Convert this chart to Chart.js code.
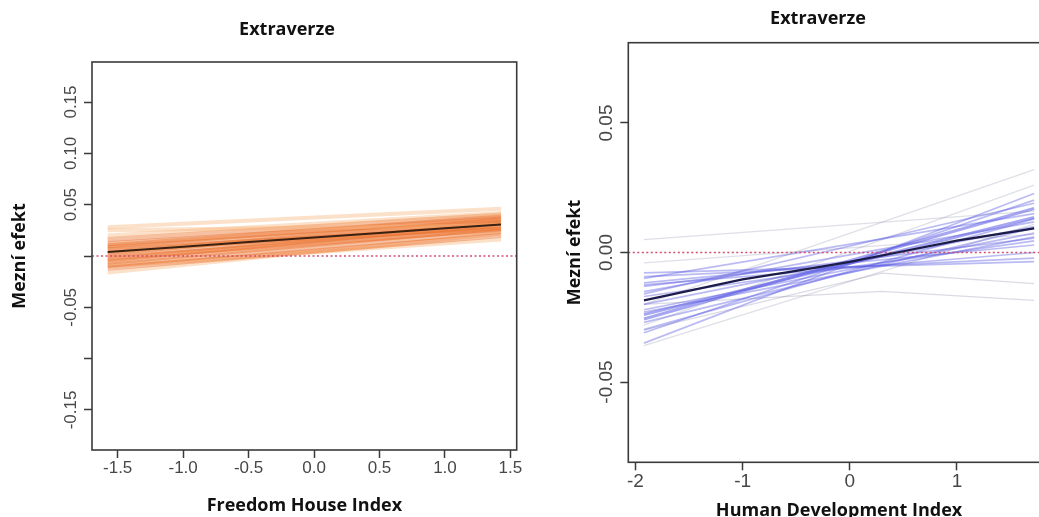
<!DOCTYPE html>
<html>
<head>
<meta charset="utf-8">
<script src="https://cdn.jsdelivr.net/npm/chart.js@4.4.0/dist/chart.umd.min.js"></script>
<style>
  html, body { margin: 0; padding: 0; background: #fff; overflow: hidden; width: 1039px; height: 517px; }
  #left { position: absolute; left: 0; top: 0; }
  #right { position: absolute; left: 530px; top: 0; }
</style>
</head>
<body>
<canvas id="left" width="530" height="517"></canvas>
<canvas id="right" width="540" height="540"></canvas>
<script>
// ---- left panel: Freedom House Index ----
var fhX = [-1.576, 1.428];                 // range of the simulated lines
var fhLinesLeft  = [0.025, 0.020, 0.016, 0.012, 0.010, 0.008, 0.006, 0.003, 0.001, -0.002, -0.004, -0.006, -0.009, -0.012, -0.010, -0.016, 0.028];
var fhLinesRight = [0.030, 0.042, 0.040, 0.036, 0.038, 0.033, 0.028, 0.035, 0.030, 0.026, 0.032, 0.027, 0.024, 0.020, 0.016, 0.022, 0.046];
var fhMeanX = [-1.576, -1.0, -0.5, 0, 0.5, 1.0, 1.428];
var fhMeanY = [0.004, 0.0091, 0.0136, 0.018, 0.0225, 0.027, 0.0308];
var fhXTicks = [-1.5, -1.0, -0.5, 0, 0.5, 1.0, 1.5];
var fhXLabels = ['-1.5', '-1.0', '-0.5', '0.0', '0.5', '1.0', '1.5'];
var fhYTicks = [-0.15, -0.10, -0.05, 0, 0.05, 0.10, 0.15];
var fhYLabels = ['-0.15', '', '-0.05', '', '0.05', '0.10', '0.15'];

// ---- right panel: Human Development Index ----
var hdiX = [-1.92, 1.72];
var hdiLinesLeft  = [-0.0350, -0.0310, -0.0298, -0.0270, -0.0257, -0.0240, -0.0221, -0.0200, -0.0170, -0.0151, -0.0131, -0.0117, -0.0100, -0.0093, -0.0079, -0.0160, -0.0230, -0.0125];
var hdiLinesRight = [ 0.0228,  0.0202,  0.0130,  0.0095,  0.0170,  0.0135,  0.0075,  0.0100,  0.0045,  0.0118,  0.0055,  0.0029,  0.0150, -0.0022, -0.0035,  0.0190,  0.0060,  0.0000];
var hdiFaintLeft  = [-0.0360, -0.0040, -0.0280, 0.0050, -0.0200];
var hdiFaintRight = [ 0.0110,  0.0070,  0.0260, 0.0160,  0.0320];
var hdiBentX = [-1.92, 0.3, 1.72];
var hdiBentY = [[-0.0200, -0.0150, -0.0185], [-0.0300, -0.0080, -0.0120]];
var hdiMeanX = [-1.92, -1, -0.5, 0, 0.5, 1, 1.72];
var hdiMeanY = [-0.0185, -0.0104, -0.0071, -0.0036, 0.0005, 0.0046, 0.0093];
var hdiXTicks = [-2, -1, 0, 1];
var hdiXLabels = ['-2', '-1', '0', '1'];
var hdiYTicks = [-0.05, 0, 0.05];
var hdiYLabels = ['-0.05', '0.00', '0.05'];

Chart.defaults.font.family = "'Liberation Sans', Arial, sans-serif";
Chart.defaults.animation = false;

var boxPlugin = {
  id: 'box',
  afterDatasetsDraw: function (chart) {
    var a = chart.chartArea, ctx = chart.ctx;
    ctx.save();
    ctx.strokeStyle = '#3a3a3a';
    ctx.lineWidth = 1.6;
    ctx.strokeRect(a.left, a.top, a.right - a.left, a.bottom - a.top);
    ctx.restore();
  }
};

var headPlugin = {
  id: 'head',
  afterDraw: function (chart, args, opts) {
    var ctx = chart.ctx;
    ctx.save();
    ctx.font = 'bold 18px "Open Sans"';
    ctx.fillStyle = '#111';
    ctx.textAlign = 'center';
    ctx.textBaseline = 'middle';
    ctx.fillText(opts.text, opts.x, opts.y);
    ctx.restore();
  }
};

function pts(xs, ys) {
  return xs.map(function (x, i) { return { x: x, y: ys[i] }; });
}

function lineSet(data, color, width, dash) {
  return {
    data: data, showLine: true, borderColor: color, borderWidth: width,
    borderDash: dash || [], pointRadius: 0, tension: 0, fill: false
  };
}

function makeChart(id, o) {
  var tickColor = '#3a3a3a';
  return new Chart(document.getElementById(id), {
    type: 'scatter',
    data: { datasets: o.datasets },
    options: {
      responsive: false,
      devicePixelRatio: 1,
      layout: { padding: o.padding },
      plugins: { legend: { display: false }, tooltip: { enabled: false }, head: o.head },
      scales: {
        x: {
          type: 'linear', bounds: 'data', min: o.xMin, max: o.xMax,
          afterBuildTicks: function (s) { s.ticks = o.xTicks.map(function (v) { return { value: v }; }); },
          afterFit: function (s) { s.height = o.xHeight; s.paddingLeft = 0; s.paddingRight = 0; },
          ticks: {
            autoSkip: false, maxRotation: 0, padding: 0, color: '#474747',
            font: { size: o.tickSize },
            callback: function (v, i) { return o.xLabels[i]; }
          },
          grid: { drawOnChartArea: false, drawTicks: true, tickLength: 8, tickColor: tickColor, tickWidth: 1.5 },
          border: { display: false },
          title: {
            display: true, text: o.xTitle, color: '#111',
            font: { family: 'Open Sans', weight: 'bold', size: 18 },
            padding: { top: 0, bottom: o.xTitlePad }
          }
        },
        y: {
          type: 'linear', bounds: 'data', min: o.yMin, max: o.yMax,
          afterBuildTicks: function (s) { s.ticks = o.yTicks.map(function (v) { return { value: v }; }); },
          afterFit: function (s) { s.width = o.yWidth; s.paddingTop = 0; s.paddingBottom = 0; },
          ticks: {
            autoSkip: false, minRotation: 90, maxRotation: 90, crossAlign: 'center',
            padding: o.yTickPad, color: '#474747', font: { size: o.tickSize },
            callback: function (v, i) { return o.yLabels[i]; }
          },
          grid: { drawOnChartArea: false, drawTicks: true, tickLength: 8, tickColor: tickColor, tickWidth: 1.5 },
          border: { display: false },
          title: {
            display: true, text: 'Mezní efekt', color: '#111',
            font: { family: 'Open Sans', weight: 'bold', size: 18 },
            padding: { top: o.yTitlePad, bottom: 0 }
          }
        }
      }
    },
    plugins: [boxPlugin, headPlugin]
  });
}

// left datasets (first drawn on top)
var fhSets = [];
fhSets.push(lineSet(pts(fhMeanX, fhMeanY), '#3a2212', 2));
fhSets.push(lineSet(pts([-1.696, 1.548], [0, 0]), '#cf4f6f', 1.5, [2, 2.5]));
fhLinesLeft.forEach(function (l, i) {
  var edge = i === 0 || i === 1 || i >= 14;
  fhSets.push(lineSet(pts(fhX, [l, fhLinesRight[i]]),
    edge ? 'rgba(246,175,115,0.38)' : 'rgba(234,108,36,0.42)', edge ? 4 : 5));
});

makeChart('left', {
  datasets: fhSets,
  padding: { left: 0, top: 62, right: 13.3, bottom: 0 },
  head: { text: 'Extraverze', x: 287, y: 30 },
  xMin: -1.696, xMax: 1.548, yMin: -0.189, yMax: 0.189,
  xTicks: fhXTicks, xLabels: fhXLabels, yTicks: fhYTicks, yLabels: fhYLabels,
  xTitle: 'Freedom House Index', xHeight: 67, xTitlePad: 0,
  yWidth: 92, yTickPad: -7, yTitlePad: 9, tickSize: 17
});

// right datasets
var hdiSets = [];
hdiSets.push(lineSet(pts(hdiMeanX, hdiMeanY), '#1c1c48', 2.2));
hdiSets.push(lineSet(pts([-2.066, 1.866], [0, 0]), '#cf4f6f', 1.5, [2, 2.5]));
hdiLinesLeft.forEach(function (l, i) {
  var thick = i === 4 || i === 5;
  hdiSets.push(lineSet(pts(hdiX, [l, hdiLinesRight[i]]),
    thick ? 'rgba(95,95,230,0.55)' : 'rgba(85,85,225,0.4)', thick ? 3 : 1.7));
});
hdiFaintLeft.forEach(function (l, i) {
  hdiSets.push(lineSet(pts(hdiX, [l, hdiFaintRight[i]]), 'rgba(110,110,150,0.22)', 1.3));
});
hdiBentY.forEach(function (ys) {
  hdiSets.push(lineSet(pts(hdiBentX, ys), 'rgba(110,110,150,0.25)', 1.3));
});

makeChart('right', {
  datasets: hdiSets,
  padding: { left: 0, top: 42.7, right: 20.2, bottom: 0 },
  head: { text: 'Extraverze', x: 288, y: 19 },
  xMin: -2.066, xMax: 1.866, yMin: -0.081, yMax: 0.081,
  xTicks: hdiXTicks, xLabels: hdiXLabels, yTicks: hdiYTicks, yLabels: hdiYLabels,
  xTitle: 'Human Development Index', xHeight: 77.7, xTitlePad: 18,
  yWidth: 98.3, yTickPad: -8, yTitlePad: 34, tickSize: 19
});
</script>
</body>
</html>
